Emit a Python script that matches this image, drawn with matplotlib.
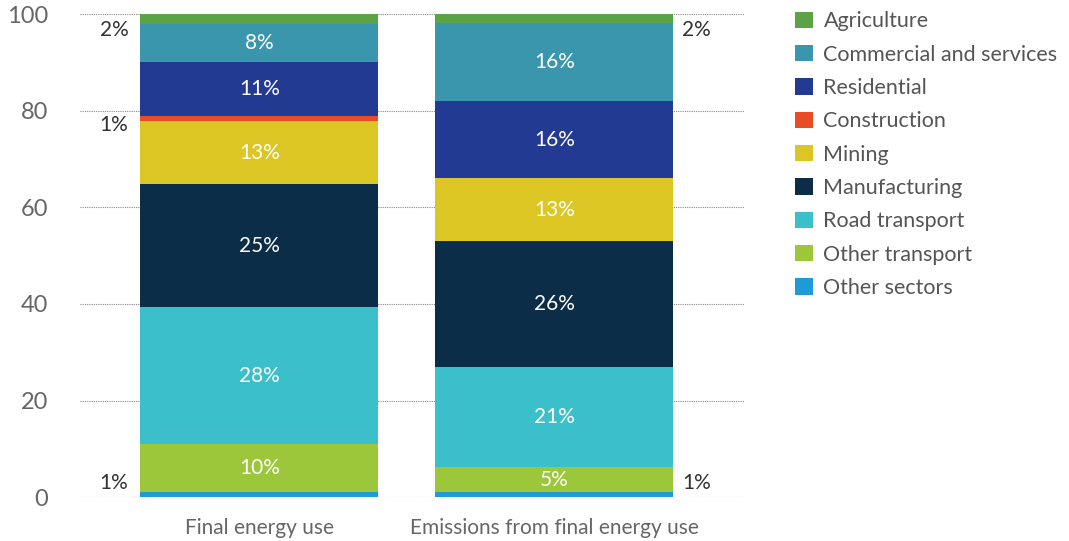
import numpy as np
import matplotlib.pyplot as plt
from matplotlib.patches import Patch

plt.rcParams['font.family'] = ['Lato', 'DejaVu Sans']

categories = ['Final energy use', 'Emissions from final energy use']
sectors = ['Other sectors', 'Other transport', 'Road transport', 'Manufacturing',
           'Mining', 'Construction', 'Residential', 'Commercial and services', 'Agriculture']
final_energy = [1.1, 9.9, 28.3, 25.5, 13.0, 1.1, 11.2, 7.9, 2.0]
emissions = [1.0, 5.2, 20.7, 26.1, 13.0, 0.0, 16.0, 16.1, 1.9]
labels_final = ['1%', '10%', '28%', '25%', '13%', '1%', '11%', '8%', '2%']
labels_emis = ['1%', '5%', '21%', '26%', '13%', '', '16%', '16%', '2%']
colors = ['#1e9ad6', '#9dc73a', '#3bbfcb', '#0b2d47', '#dcc623', '#e94b25',
          '#233a93', '#3a96ad', '#5ba344']

# small segments get their label outside the bar
outside = {'Other sectors', 'Construction', 'Agriculture'}

fig = plt.figure(figsize=(10.69, 5.41), dpi=100)
ax = fig.add_axes([0.075, 0.081, 0.622, 0.893])

x = np.arange(len(categories))
width = 0.807
data = [final_energy, emissions]
labs = [labels_final, labels_emis]

for i in range(len(categories)):
    bottom = 0
    for j, s in enumerate(sectors):
        v = data[i][j]
        ax.bar(x[i], v, width, bottom=bottom, color=colors[j], zorder=3)
        lab = labs[i][j]
        if lab:
            if s in outside:
                if i == 0:
                    xt = x[i] - width / 2 - 0.04
                    ha = 'right'
                else:
                    xt = x[i] + width / 2 + 0.03
                    ha = 'left'
                if s == 'Other sectors':
                    yt = 2.9
                elif s == 'Agriculture':
                    yt = 96.7
                else:
                    yt = 77.0
                ax.text(xt, yt, lab, ha=ha, va='center', fontsize=15, color='#333333')
            else:
                ax.text(x[i], bottom + v / 2, lab, ha='center', va='center',
                        fontsize=15, color='white')
        bottom += v

ax.set_ylim(0, 100)
ax.set_xlim(-0.607, 1.647)
ax.set_yticks([0, 20, 40, 60, 80, 100])
ax.set_xticks(x)
ax.set_xticklabels(categories)
ax.tick_params(axis='both', length=0, colors='#666666')
ax.tick_params(axis='y', pad=23, labelsize=17)
ax.tick_params(axis='x', pad=15, labelsize=15)
for sp in ax.spines.values():
    sp.set_visible(False)
ax.yaxis.grid(True, linestyle=(0, (1, 1)), color='#888888', linewidth=0.8, zorder=0)

handles = [Patch(facecolor=colors[j]) for j in range(len(sectors))][::-1]
fig.legend(handles, sectors[::-1], loc='upper left', bbox_to_anchor=(0.726, 1.015),
           frameon=False, fontsize=15.5, handlelength=0.8, handleheight=0.8,
           handletextpad=0.5, labelspacing=0.62, labelcolor='#555555')

fig.savefig('out.png', dpi=100)
